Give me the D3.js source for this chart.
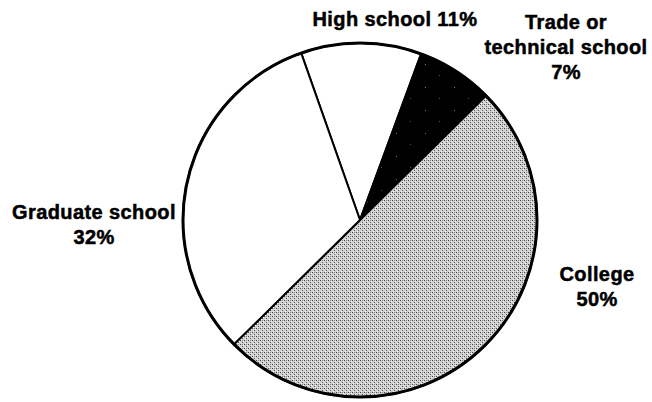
<!DOCTYPE html>
<html>
<head>
<meta charset="utf-8">
<script src="https://cdn.jsdelivr.net/npm/d3@7"></script>
<style>
  body { margin: 0; background: #fff; }
  .label { font-family: "Liberation Sans", Arial, Helvetica, sans-serif; font-weight: bold; font-size: 20px; fill: #000; stroke: #000; stroke-width: 0.5px; letter-spacing: 0.4px; }
</style>
</head>
<body>
<div id="chart"></div>
<script>
var width = 652;
var height = 402;

// data
var categories = ["High school", "Trade or technical school", "College", "Graduate school"];
var percents = [11, 7, 50, 32];
var categoryLines = [["High school"], ["Trade or", "technical school"], ["College"], ["Graduate school"]];
var fills = ["#fff", "url(#speckle)", "url(#stipple)", "#fff"];

// layout
var cx = 360, cy = 220, radius = 177;
var startDeg = -19.4;
var lineHeight = 25;
// label anchor: center x, first baseline
var labelPos = [[395, 26], [566, 29], [597, 281], [94, 219]];

var svg = d3.select("#chart")
  .append("svg")
  .attr("width", width)
  .attr("height", height);

var defs = svg.append("defs");

/* college: grey stipple */
var stip = defs.append("pattern")
  .attr("id", "stipple")
  .attr("patternUnits", "userSpaceOnUse")
  .attr("width", 4)
  .attr("height", 4);
stip.append("rect").attr("width", 4).attr("height", 4).attr("fill", "#d0d0d0");
stip.append("rect").attr("x", 0).attr("y", 0).attr("width", 1).attr("height", 1).attr("fill", "#444");
stip.append("rect").attr("x", 2).attr("y", 2).attr("width", 1).attr("height", 1).attr("fill", "#555");
stip.append("rect").attr("x", 2).attr("y", 0).attr("width", 1).attr("height", 1).attr("fill", "#8a8a8a");
stip.append("rect").attr("x", 1).attr("y", 3).attr("width", 1).attr("height", 1).attr("fill", "#f2f2f2");
stip.append("rect").attr("x", 3).attr("y", 1).attr("width", 1).attr("height", 1).attr("fill", "#eee");

/* trade: black with a few faint specks */
var spk = defs.append("pattern")
  .attr("id", "speckle")
  .attr("patternUnits", "userSpaceOnUse")
  .attr("width", 29)
  .attr("height", 23);
spk.append("rect").attr("width", 29).attr("height", 23).attr("fill", "#000");
spk.append("rect").attr("x", 7).attr("y", 5).attr("width", 1).attr("height", 1).attr("fill", "#777");
spk.append("rect").attr("x", 21).attr("y", 16).attr("width", 1).attr("height", 1).attr("fill", "#555");

var pie = d3.pie()
  .sort(null)
  .startAngle(startDeg * Math.PI / 180)
  .endAngle(startDeg * Math.PI / 180 + 2 * Math.PI);

var arc = d3.arc().innerRadius(0).outerRadius(radius);

var g = svg.append("g").attr("transform", `translate(${cx}, ${cy})`);

g.selectAll(".slice")
  .data(pie(percents))
  .enter()
  .append("path")
  .attr("class", "slice")
  .attr("d", arc)
  .attr("fill", (d, i) => fills[i])
  .attr("stroke", "#000")
  .attr("stroke-width", 2)
  .attr("stroke-linejoin", "round");

// heavier outer rim
g.append("circle")
  .attr("r", radius)
  .attr("fill", "none")
  .attr("stroke", "#000")
  .attr("stroke-width", 3);

/* labels */
var labels = svg.selectAll(".label")
  .data(categories)
  .enter()
  .append("text")
  .attr("class", "label")
  .attr("text-anchor", "middle")
  .attr("transform", (d, i) => `translate(${labelPos[i][0]}, ${labelPos[i][1]})`);

labels.each(function(d, i) {
  var lines = categoryLines[i].slice();
  if (i == 0) {
    lines[0] = lines[0] + " " + percents[i] + "%";
  } else {
    lines.push(percents[i] + "%");
  }
  var t = d3.select(this);
  lines.forEach(function(l, j) {
    t.append("tspan")
      .attr("x", 0)
      .attr("y", j * lineHeight)
      .text(l);
  });
});
</script>
</body>
</html>
